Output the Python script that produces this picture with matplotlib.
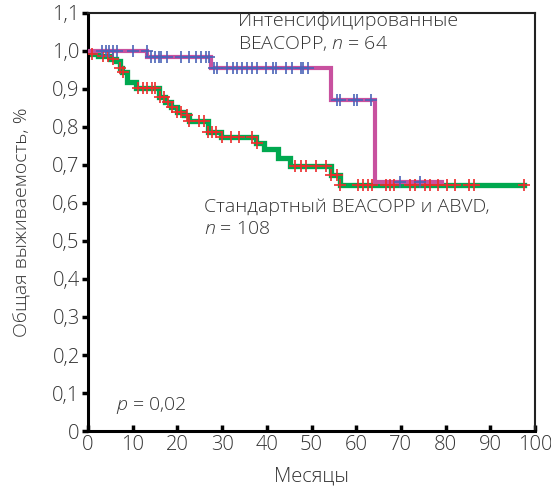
import numpy as np
import matplotlib
matplotlib.use("Agg")
import matplotlib.pyplot as plt

plt.rcParams['font.family'] = ['Open Sans', 'DejaVu Sans']
plt.rcParams['font.weight'] = 'light'
plt.rcParams['axes.labelweight'] = 'light'
plt.rcParams['mathtext.fontset'] = 'custom'
plt.rcParams['mathtext.it'] = 'Open Sans:italic:light'
plt.rcParams['mathtext.rm'] = 'Open Sans:light'

# Standard BEACOPP & ABVD (green) step data
std_t = [0, 2.2, 4.9, 6.2, 7.1, 7.6, 8.7, 10.7, 15.8, 17.3, 18.5, 20.0, 21.5, 22.7,
         26.9, 29.8, 37.5, 39.3, 42.4, 45.3, 54.4, 56.4, 97.6]
std_s = [0.993, 0.987, 0.98, 0.973, 0.955, 0.945, 0.918, 0.903, 0.879, 0.866, 0.853,
         0.84, 0.832, 0.816, 0.787, 0.774, 0.758, 0.742, 0.718, 0.697, 0.674, 0.647, 0.647]
std_cens = [0.9, 3.3, 4.4, 5.6, 7.1, 7.8, 11.1, 12.2, 13.3, 14.4, 15.1, 16.0, 16.9,
            17.8, 18.9, 20.0, 20.9, 22.2, 22.7, 24.9, 26.0, 26.9, 27.8, 28.7, 30.0,
            32.0, 33.8, 36.7, 37.8, 46.4, 47.6, 48.7, 51.1, 53.3, 54.4, 55.6, 56.4,
            60.4, 61.6, 62.7, 63.6, 66.7, 67.6, 68.4, 72.0, 73.1, 75.3, 76.4, 78.2,
            80.4, 82.2, 85.3, 86.4, 97.6]

# Intensified BEACOPP (magenta)
int_t = [0, 13.3, 27.6, 54.4, 64.2, 79.3]
int_s = [1.0, 0.984, 0.955, 0.871, 0.655, 0.655]
int_cens = [3.1, 4.0, 4.7, 5.6, 6.4, 10.0, 13.1, 14.2, 15.1, 15.8, 16.4, 17.6, 20.9,
            22.7, 24.2, 25.3, 26.4, 27.1, 28.2, 28.9, 31.1, 32.4, 33.3, 34.4, 35.6,
            36.7, 37.8, 39.8, 41.3, 42.0, 44.4, 45.6, 47.6, 48.2, 49.3, 55.6, 56.4,
            59.6, 60.2, 63.3, 69.8, 74.2]

x_ticks = [0, 10, 20, 30, 40, 50, 60, 70, 80, 90, 100]
y_ticks = [0, 0.1, 0.2, 0.3, 0.4, 0.5, 0.6, 0.7, 0.8, 0.9, 1.0, 1.1]
y_labels = ['0', '0,1', '0,2', '0,3', '0,4', '0,5', '0,6', '0,7', '0,8', '0,9', '1,0', '1,1']

def step_at(t, times, vals):
    idx = np.searchsorted(times, t, side='right') - 1
    return np.asarray(vals)[idx]

fig = plt.figure(figsize=(5.51, 4.90), dpi=100)
ax = fig.add_axes([0.1597, 0.1204, 0.8113, 0.8531])

green = '#00a84f'
magenta = '#c8519f'
ax.step(std_t, std_s, where='post', color=green, lw=3.8, zorder=2, solid_joinstyle='miter')
ax.step(int_t, int_s, where='post', color=magenta, lw=3.0, zorder=3, solid_joinstyle='miter')

ax.plot(std_cens, step_at(std_cens, std_t, std_s), ls='none', marker='+',
        color='#ee2b2b', ms=8, mew=1.2, zorder=4)
ax.plot(int_cens, step_at(int_cens, int_t, int_s), ls='none', marker='+',
        color='#4b63b8', ms=8, mew=1.2, zorder=5)

ax.set_xlim(0, 100)
ax.set_ylim(0, 1.1)
ax.set_xticks(x_ticks)
ax.set_xticklabels([str(v) for v in x_ticks])
ax.set_yticks(y_ticks)
ax.set_yticklabels(y_labels)

tc = '#333333'
ax.tick_params(axis='x', direction='in', length=4, width=2.5, labelsize=14.5,
               labelcolor=tc, pad=3)
ax.tick_params(axis='y', direction='out', length=4, width=2.5, labelsize=14.5,
               labelcolor=tc, pad=2)
for s in ['left', 'bottom']:
    ax.spines[s].set_linewidth(2.2)
    ax.spines[s].set_color('black')
for s in ['top', 'right']:
    ax.spines[s].set_linewidth(1.5)
    ax.spines[s].set_color('#222222')

ax.set_xlabel('Месяцы', fontsize=14.5, color=tc, labelpad=8, fontweight='light')
ax.set_ylabel('Общая выживаемость, %', fontsize=14, color=tc, labelpad=15,
              fontweight='light')

ax.text(33.5, 1.103, 'Интенсифицированные\nBEACOPP, $n$ = 64', ha='left', va='top',
        fontsize=14, color=tc, linespacing=1.25)
ax.text(26.0, 0.612, 'Стандартный BEACOPP и ABVD,\n$n$ = 108', ha='left', va='top',
        fontsize=14, color=tc, linespacing=1.25)
ax.text(6.2, 0.068, '$p$ = 0,02', ha='left', va='center', fontsize=14, color=tc)

fig.savefig('out.png', dpi=100)
